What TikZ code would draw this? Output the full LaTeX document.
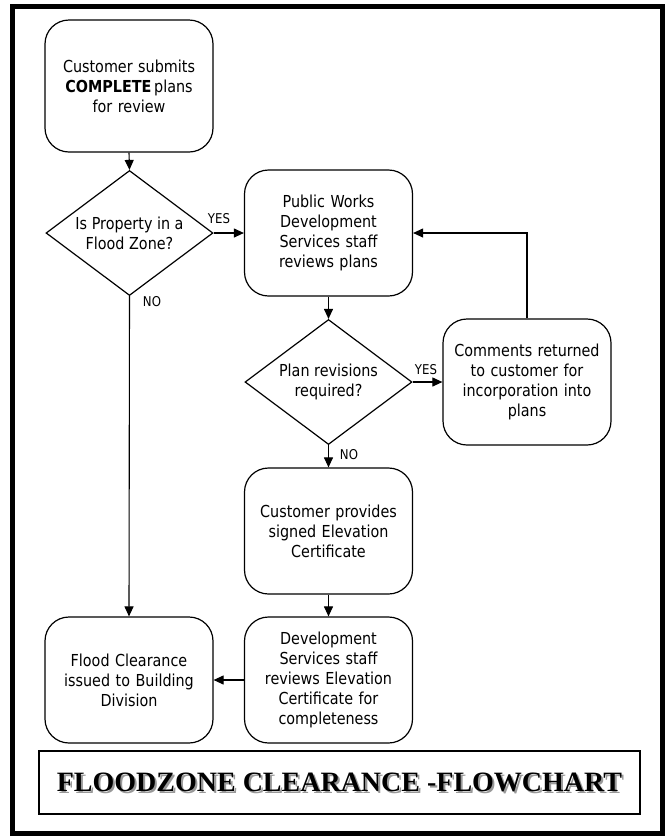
\documentclass[tikz,border=0pt]{standalone}
\usepackage{fontspec}
\setmainfont{DejaVu Sans}[FakeStretch=0.87]
\newfontfamily\titlefont{Liberation Serif}
\usetikzlibrary{shapes.geometric,arrows.meta}

\begin{document}
\begin{tikzpicture}[x=1pt,y=-1pt,
  every node/.style={font=\fontsize{16.5}{20}\selectfont},
  stepbox/.style={draw,line width=1.2pt,rounded corners=24pt,
    minimum width=168pt,minimum height=126pt,inner sep=0pt,
    text width=164pt,align=center},
  decision/.style={draw,line width=1.2pt,shape=diamond,
    minimum width=167pt,minimum height=125pt,inner sep=0pt},
  qtext/.style={align=center,inner sep=0pt},
  flow/.style={line width=1.1pt,-{Triangle[length=10pt,width=9pt]}},
  tag/.style={font=\fontsize{13.5}{15}\selectfont,inner sep=0pt}
]
% page and frame
\useasboundingbox (0,0) rectangle (670,836);
\fill[white] (0,0) rectangle (670,836);
\draw[line width=5pt] (12.5,6) rectangle (662.5,833);

% process steps
\node[stepbox,minimum height=132pt] (submit) at (129,86)
  {Customer submits\\\textbf{COMPLETE}\,plans\\for review};
\node[decision] (flood) at (129.5,233) {};
\node[qtext] (floodq) at (flood) {Is Property in a\\Flood Zone?};
\node[stepbox] (review) at (328.5,233)
  {Public Works\\Development\\Services staff\\reviews plans};
\node[decision] (revise) at (328.5,382) {};
\node[qtext] (reviseq) at (revise) {Plan revisions\\required?};
\node[stepbox] (comments) at (527,382)
  {Comments returned\\to customer for\\incorporation into\\plans};
\node[stepbox] (cert) at (328.5,531)
  {Customer provides\\signed Elevation\\Certificate};
\node[stepbox] (check) at (328.5,680)
  {Development\\Services staff\\reviews Elevation\\Certificate for\\completeness};
\node[stepbox] (clear) at (129,680)
  {Flood Clearance\\issued to Building\\Division};

% connectors
\draw[flow] (submit.south) -- (flood.north);
\draw[flow] (flood.east) -- (review.west);
\draw[flow] (review.south) -- (revise.north);
\draw[flow] (revise.east) -- (comments.west);
\draw[flow] (comments.north) |- (review.east);
\draw[flow] (revise.south) -- (cert.north);
\draw[flow] (cert.south) -- (check.north);
\draw[flow] (check.west) -- (clear.east);
\draw[flow] (flood.south) -- (clear.north);

% branch labels
\node[tag] (yes1) at (219,219) {YES};
\node[tag] (no1) at (152,302) {NO};
\node[tag] (yes2) at (426,370) {YES};
\node[tag] (no2) at (349,455) {NO};

% title panel
\node[draw,line width=1.4pt,minimum width=601pt,minimum height=63pt,inner sep=0pt]
  (titlebox) at (339.5,782.5) {};
\node[text=black!40,font=\titlefont\bfseries\fontsize{28}{32}\selectfont]
  (titleshade) at ([xshift=2pt,yshift=-2pt]titlebox.center) {FLOODZONE CLEARANCE -FLOWCHART};
\node[font=\titlefont\bfseries\fontsize{28}{32}\selectfont]
  (title) at (titlebox.center) {FLOODZONE CLEARANCE -FLOWCHART};
\end{tikzpicture}
\end{document}
